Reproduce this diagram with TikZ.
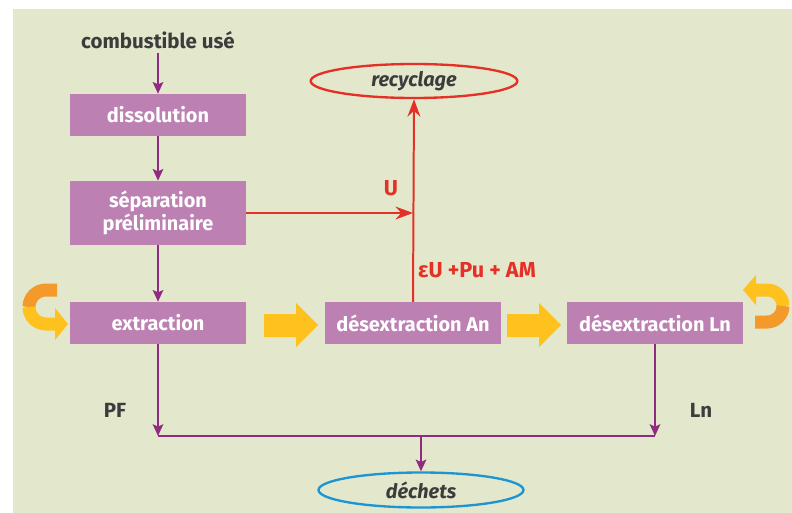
\documentclass[tikz,border=0pt]{standalone}
\usepackage{fontspec}
\setmainfont{Fira Sans}
\usepackage{xcolor}
\usetikzlibrary{arrows.meta, shapes.geometric, positioning}

\definecolor{fond}{HTML}{E3E8CC}
\definecolor{boite}{HTML}{BC80B3}
\definecolor{violet}{HTML}{8E2C80}
\definecolor{rouge}{HTML}{E53027}
\definecolor{bleu}{HTML}{1E95D3}
\definecolor{jaune}{HTML}{FFC11E}
\definecolor{orangef}{HTML}{F39A2A}
\definecolor{gristexte}{HTML}{3C3C3C}

\tikzset{
    etape/.style={fill=boite, text=white, font=\bfseries\fontsize{17}{20}\selectfont,
        minimum width=5.28cm, minimum height=1.26cm, inner sep=0pt, align=center},
    etiq/.style={text=gristexte, font=\bfseries\fontsize{17.5}{20}\selectfont},
    rouget/.style={text=rouge, font=\bfseries\fontsize{18.5}{21}\selectfont},
    pfleche/.style={draw=violet, line width=1.7pt, -{Stealth[length=10pt, width=9pt, inset=2pt]}},
    rfleche/.style={draw=rouge, line width=1.7pt, -{Stealth[length=15pt, width=11pt, inset=5pt]}},
    bulle/.style={ellipse, line width=2pt, inner sep=0pt, text=gristexte,
        font=\bfseries\itshape\fontsize{17}{20}\selectfont}
}

\begin{document}
\begin{tikzpicture}[x=0.03cm, y=-0.03cm]
    \useasboundingbox (0,0) rectangle (792,513);
    \fill[fond] (13,9) rectangle (792,513);

    % boites
    \node[etiq] (comb) at (158,40) {combustible usé};
    \node[etape] (diss) at (158,115) {dissolution};
    \node[etape, minimum height=1.92cm] (sep) at (158,213) {séparation\\préliminaire};
    \node[etape] (extr) at (158,323) {extraction};
    \node[etape] (desAn) at (413,323) {désextraction An};
    \node[etape] (desLn) at (655,323) {désextraction Ln};

    \node[bulle, draw=rouge, minimum width=6.2cm, minimum height=1.02cm] (recy) at (414,81) {recyclage};
    \node[bulle, draw=bleu, minimum width=6.15cm, minimum height=1.05cm] (dech) at (421,490) {déchets};

    \coordinate (pf) at (158,436);
    \coordinate (ln) at (655,436);
    \coordinate (mil) at (421,436);
    \coordinate (u) at (413,213);

    % fleches violettes
    \draw[pfleche] (comb) -- (diss);
    \draw[pfleche] (diss) -- (sep);
    \draw[pfleche] (sep) -- (extr);
    \draw[pfleche] (extr) -- (pf);
    \draw[pfleche] (desLn) -- (ln);
    \draw[violet, line width=1.7pt] (pf) -- (ln);
    \draw[pfleche] (mil) -- (dech);
    \node[etiq] (pfl) at (115,410) {PF};
    \node[etiq] (lnl) at (701,410) {Ln};

    % fleches rouges
    \draw[rfleche] (sep.east) -- (u);
    \draw[rfleche] (desAn.north) -- (recy.south);
    \node[rouget] (ul) at (391,188) {U};
    \node[rouget] (eul) at (477,270) {εU +Pu + AM};

    % fleches jaunes
    \fill[jaune] (264,314) -- (296,314) -- (296,303) -- (318,325) -- (296,347) -- (296,337) -- (264,337) -- cycle;
    \fill[jaune] (507,314) -- (539,314) -- (539,303) -- (561,325) -- (539,347) -- (539,337) -- (507,337) -- cycle;

    % boucles
    \draw[orangef, line width=0.39cm] (57,290) -- (46,290) arc[start angle=270, end angle=180, radius=17];
    \draw[jaune, line width=0.39cm] (29,307) arc[start angle=180, end angle=90, radius=17] -- (56,324);
    \fill[jaune] (55,308) -- (68,324) -- (55,340) -- cycle;
    \draw[jaune, line width=0.39cm] (756,290) -- (767,290) arc[start angle=270, end angle=360, radius=16];
    \draw[orangef, line width=0.39cm] (783,306) arc[start angle=0, end angle=90, radius=16] -- (755,322);
    \fill[jaune] (756,275) -- (743,290) -- (756,305) -- cycle;
\end{tikzpicture}
\end{document}
